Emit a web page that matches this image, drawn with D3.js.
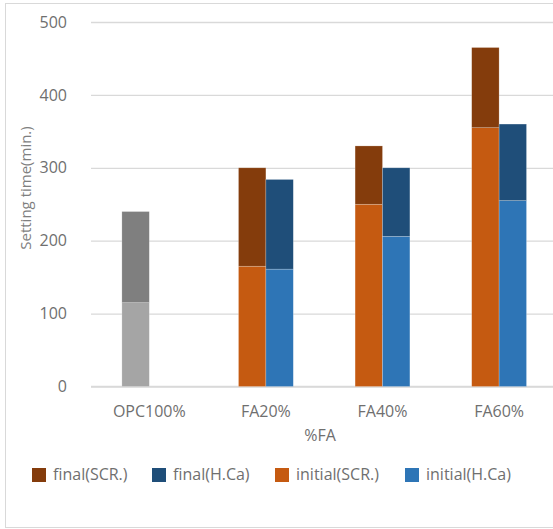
<!DOCTYPE html>
<html>
<head>
<meta charset="utf-8">
<script src="https://cdn.jsdelivr.net/npm/d3@7"></script>
<style>
  html, body { margin: 0; padding: 0; background: #fff; }
  svg { display: block; }
  text { font-family: "Open Sans", "DejaVu Sans", sans-serif; }
</style>
</head>
<body>
<svg id="chart" width="553" height="529"></svg>
<script>
// Setting times (minutes) per mix
const categories = ["OPC100%", "FA20%", "FA40%", "FA60%"];
const initialSCR = [115, 165, 250, 355];
const finalSCR   = [240, 300, 330, 465];
const initialHCa = [null, 161, 206, 255];
const finalHCa   = [null, 284, 300, 360];
const yTicks = [0, 100, 200, 300, 400, 500];

const legendItems = [
  { label: "final(SCR.)",   color: "#843C0C" },
  { label: "final(H.Ca)",   color: "#1F4E79" },
  { label: "initial(SCR.)", color: "#C55A11" },
  { label: "initial(H.Ca)", color: "#2E75B6" }
];

const svg = d3.select("#chart");
const plot = { left: 91, right: 557.4, top: 22, bottom: 386.5 };

// outer chart frame
svg.append("rect")
  .attr("x", 5.5).attr("y", 3.5)
  .attr("width", 560).attr("height", 524)
  .attr("fill", "#fff").attr("stroke", "#d9d9d9").attr("stroke-width", 1);

const y = d3.scaleLinear().domain([0, 500]).range([plot.bottom, plot.top]);
const x = d3.scaleBand().domain(categories)
  .range([plot.left, plot.right]).paddingInner(0.53).paddingOuter(0.265);
const xSub = d3.scaleBand().domain(["SCR", "HCa"]).range([0, x.bandwidth()]);

// gridlines and y tick labels
const yAxis = d3.axisLeft(y).tickValues(yTicks)
  .tickSize(-(plot.right - plot.left)).tickPadding(24);
const gy = svg.append("g").attr("transform", `translate(${plot.left},0)`).call(yAxis);
gy.select(".domain").remove();
gy.selectAll(".tick line").attr("stroke", "#d9d9d9").attr("stroke-width", 1.3);
gy.selectAll(".tick text").attr("fill", "#6f6f6f")
  .style("font-size", "16px").style("font-family", "'Open Sans', sans-serif");

// baseline
svg.append("line")
  .attr("x1", plot.left).attr("x2", plot.right)
  .attr("y1", y(0)).attr("y2", y(0))
  .attr("stroke", "#d9d9d9").attr("stroke-width", 1.5);

// stacked segments: initial from 0, final from initial to final value
const segments = [];
categories.forEach((c, i) => {
  const scrLow = i === 0 ? "#A5A5A5" : "#C55A11";
  const scrHigh = i === 0 ? "#7F7F7F" : "#843C0C";
  if (initialSCR[i] != null) {
    segments.push({ c, slot: "SCR", y0: 0, y1: initialSCR[i], color: scrLow });
    segments.push({ c, slot: "SCR", y0: initialSCR[i], y1: finalSCR[i], color: scrHigh });
  }
  if (initialHCa[i] != null) {
    segments.push({ c, slot: "HCa", y0: 0, y1: initialHCa[i], color: "#2E75B6" });
    segments.push({ c, slot: "HCa", y0: initialHCa[i], y1: finalHCa[i], color: "#1F4E79" });
  }
});

svg.append("g").selectAll("rect").data(segments).join("rect")
  .attr("x", d => x(d.c) + xSub(d.slot))
  .attr("width", xSub.bandwidth())
  .attr("y", d => y(d.y1))
  .attr("height", d => y(d.y0) - y(d.y1))
  .attr("fill", d => d.color)
  .attr("stroke", "#fff").attr("stroke-opacity", 0.35).attr("stroke-width", 0.6);

// category labels
const xAxis = d3.axisBottom(x).tickSize(0).tickPadding(19);
const gx = svg.append("g").attr("transform", `translate(0,${plot.bottom})`).call(xAxis);
gx.select(".domain").remove();
gx.selectAll(".tick text").attr("fill", "#6f6f6f")
  .style("font-size", "16px").style("font-family", "'Open Sans', sans-serif");

// axis titles
svg.append("text")
  .attr("x", 320).attr("y", 441)
  .attr("text-anchor", "middle")
  .attr("fill", "#6f6f6f").style("font-size", "16px")
  .text("%FA");

svg.append("text")
  .attr("transform", "translate(31,188) rotate(-90)")
  .attr("text-anchor", "middle")
  .attr("fill", "#7f7f7f").style("font-size", "15px")
  .text("Setting time(min.)");

// legend
const legendX = [32, 152, 275, 405];
const lg = svg.append("g").selectAll("g").data(legendItems).join("g")
  .attr("transform", (d, i) => `translate(${legendX[i]},468)`);
lg.append("rect").attr("width", 14).attr("height", 14).attr("fill", d => d.color);
lg.append("text").attr("x", 21).attr("y", 12)
  .attr("fill", "#6f6f6f").style("font-size", "16px")
  .text(d => d.label);
</script>
</body>
</html>
